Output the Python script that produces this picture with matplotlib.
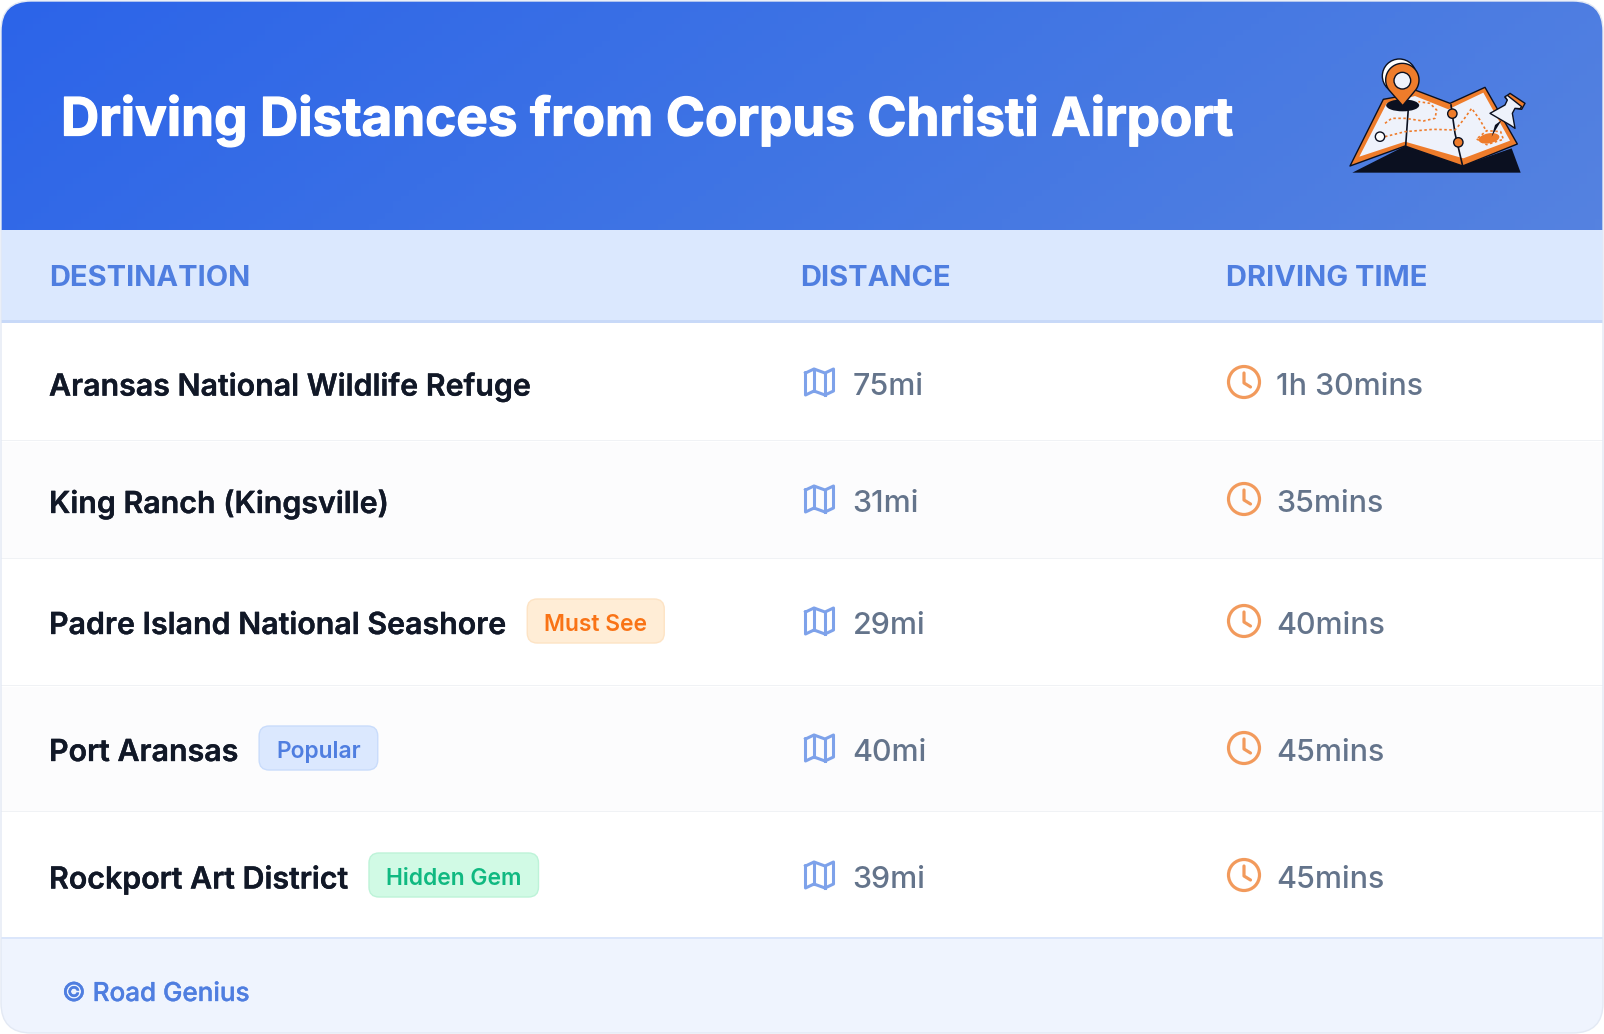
import matplotlib
matplotlib.use('Agg')
import numpy as np
from matplotlib import pyplot as plt, patheffects as pe
from matplotlib.patches import FancyBboxPatch, Rectangle, Circle, Polygon, Ellipse
from matplotlib.colors import LinearSegmentedColormap

title = 'Driving Distances from Corpus Christi Airport'
columns = ['DESTINATION', 'DISTANCE', 'DRIVING TIME']
destinations = ['Aransas National Wildlife Refuge', 'King Ranch (Kingsville)',
                'Padre Island National Seashore', 'Port Aransas', 'Rockport Art District']
distances = ['75mi', '31mi', '29mi', '40mi', '39mi']
times = ['1h 30mins', '35mins', '40mins', '45mins', '45mins']
badges = [None, None, 'Must See', 'Popular', 'Hidden Gem']
footer = '© Road Genius'

W, H = 1604, 1034
plt.rcParams['font.family'] = ['Inter', 'DejaVu Sans']

fig = plt.figure(figsize=(W / 100, H / 100), dpi=100, facecolor='white')
ax = fig.add_axes([0, 0, 1, 1])
ax.set_xlim(0, W)
ax.set_ylim(H, 0)
ax.axis('off')

# px to pt at dpi 100
def px(v):
    return v * 0.72

# thicker glyphs than the font's own bold
def heavy(color, w):
    return [pe.withStroke(linewidth=w, foreground=color)]

# card outline, used to clip everything
card = FancyBboxPatch((1, 1), 1602, 1032, boxstyle='round,pad=0,rounding_size=30',
                      fc='white', ec='none', zorder=0)
ax.add_patch(card)

# header gradient
cmap = LinearSegmentedColormap.from_list('hdr', ['#2c64e9', '#3f74e4', '#5582e0'])
xx, yy = np.meshgrid(np.linspace(0, 1, 200), np.linspace(0, 1, 40))
im = ax.imshow(xx * 0.85 + yy * 0.15, extent=(1, 1603, 230, 1), cmap=cmap, aspect='auto', zorder=1)
im.set_clip_path(card)
ax.set_xlim(0, W)
ax.set_ylim(H, 0)

row_edges = [321, 440, 558, 685, 811, 938]
row_centers = [384, 501, 623, 750, 877]
row_colors = ['#ffffff', '#fcfcfd', '#ffffff', '#fcfcfd', '#ffffff']

def band(y0, y1, color, z=1):
    r = Rectangle((1, y0), 1602, y1 - y0, fc=color, ec='none', zorder=z)
    ax.add_patch(r)
    r.set_clip_path(card)

band(230, 321, '#dbe8fe')
band(320, 323, '#c8d9f8', 2)
for i in range(5):
    band(row_edges[i] + 2, row_edges[i + 1], row_colors[i])
    if i < 4:
        band(row_edges[i + 1], row_edges[i + 1] + 1, '#f0f2f5', 2)
band(938, 1033, '#eff4fe')
band(937, 939, '#dbe6fb', 2)

ax.add_patch(FancyBboxPatch((1, 1), 1602, 1032, boxstyle='round,pad=0,rounding_size=30',
                            fc='none', ec='#e3e9f4', lw=1, zorder=6))

ax.text(61, 121, title, color='white', fontsize=px(52.9), fontweight='bold', va='center', zorder=5,
        path_effects=heavy('white', 0.9))

col_x = [49, 800, 1226]
for x, c in zip(col_x, columns):
    ax.text(x, 279, c, color='#4f7ee0', fontsize=px(29.1), fontweight='bold', va='center', zorder=5)

def map_icon(x, y):
    pts = np.array([[-14, -9], [-5.5, -13], [5.5, -9], [14, -13], [14, 9], [5.5, 13], [-5.5, 9], [-14, 13], [-14, -9]])
    ax.plot(x + pts[:, 0], y + pts[:, 1], color='#7ea2ea', lw=2.2, solid_joinstyle='round', zorder=5)
    ax.plot([x - 5.5, x - 5.5], [y - 13, y + 9], color='#7ea2ea', lw=2.2, zorder=5)
    ax.plot([x + 5.5, x + 5.5], [y - 9, y + 13], color='#7ea2ea', lw=2.2, zorder=5)

def clock_icon(x, y):
    ax.add_patch(Circle((x, y), 15.5, fc='none', ec='#f29a5c', lw=2.3, zorder=5))
    ax.plot([x, x, x + 6.5], [y - 9, y + 1, y + 5], color='#f29a5c', lw=2.3,
            solid_capstyle='round', solid_joinstyle='round', zorder=5)

badge_style = {'Must See': ('#ffedd6', '#fde3c4', '#f97316'),
               'Popular': ('#dbe8fe', '#c9dcfb', '#4f7ee0'),
               'Hidden Gem': ('#d1fae5', '#bdf3d8', '#10b981')}
renderer = fig.canvas.get_renderer()

for i in range(5):
    y = row_centers[i]
    t = ax.text(49, y + 3, destinations[i], color='#111827', fontsize=px(30.35), fontweight='semibold',
                va='center', zorder=5, path_effects=heavy('#111827', 0.25))
    end = t.get_window_extent(renderer).x1
    if badges[i]:
        fc, ec, tc = badge_style[badges[i]]
        bx = end + 21
        bt = ax.text(bx + 17, y + 2, badges[i], color=tc, fontsize=px(22.8), fontweight='semibold',
                     va='center', zorder=6)
        bw = bt.get_window_extent(renderer).width + 34
        ax.add_patch(FancyBboxPatch((bx, y - 24), bw, 44, boxstyle='round,pad=0,rounding_size=10',
                                    fc=fc, ec=ec, lw=1, zorder=5))
    map_icon(819.5, y - 2)
    ax.text(852.5, y + 3, distances[i], color='#64748b', fontsize=px(30.4), fontweight='medium', va='center', zorder=5)
    clock_icon(1244, y - 2)
    ax.text(1276.5, y + 3, times[i], color='#64748b', fontsize=px(30.4), fontweight='medium', va='center', zorder=5)

ax.text(62, 994, footer, color='#4f7ee0', fontsize=px(26), fontweight='medium', va='center', zorder=5,
        path_effects=heavy('#4f7ee0', 0.25))

# map illustration, drawn in crop coordinates of the icon
def ic(pts):
    a = np.array(pts, dtype=float)
    return np.c_[1290 + a[:, 0] / 3, 40 + a[:, 1] / 3]

ORANGE, INK, PAPER = '#ee7c2b', '#0b1020', '#eef2fb'

def poly(pts, fc, ec='none', lw=0, z=7):
    ax.add_patch(Polygon(ic(pts), closed=True, fc=fc, ec=ec, lw=lw, joinstyle='round', zorder=z))

def dash(pts, z=9):
    a = ic(pts)
    ax.plot(a[:, 0], a[:, 1], color=ORANGE, lw=1.2, ls=(0, (1.5, 1.5)), zorder=z)

def dot(x, y, r, fc, ec=INK, z=10, lw=1):
    c = ic([[x, y]])[0]
    ax.add_patch(Circle(c, r / 3, fc=fc, ec=ec, lw=lw, zorder=z))

poly([[187, 398], [345, 318], [518, 376], [665, 325], [692, 398]], INK)
poly([[180, 378], [280, 178], [335, 168], [375, 150], [480, 190], [585, 142], [682, 312],
      [518, 378], [345, 318]], ORANGE, INK, 1, 8)
poly([[208, 350], [290, 190], [375, 168], [475, 208], [580, 158], [660, 302], [520, 355], [345, 305]], PAPER, z=8.5)
for seg in [[[355, 205], [347, 318]], [[483, 195], [495, 280], [518, 378]]]:
    a = ic(seg)
    ax.plot(a[:, 0], a[:, 1], color=INK, lw=1.2, zorder=9)
dash([[285, 290], [345, 275], [430, 268], [495, 270], [520, 240], [545, 205], [570, 240], [590, 275]])
dash([[285, 250], [305, 235], [345, 235], [400, 243], [435, 235], [440, 210], [420, 190], [385, 185]])
ax.add_patch(Ellipse(ic([[338, 196]])[0], 33, 12, fc=INK, ec='none', zorder=10))
ax.add_patch(Ellipse(ic([[597, 295]])[0], 21, 10, angle=-10, fc=ORANGE, ec='none', zorder=10))
dash([[560, 297], [590, 314], [640, 298], [632, 275], [590, 272], [560, 297]])
dot(270, 290, 14, 'white')
dot(487, 221, 14, ORANGE)
dot(505, 307, 14, ORANGE)
# location pin
ax.add_patch(Circle(ic([[328, 108]])[0], 17, fc='white', ec=INK, lw=1, zorder=10))
t = np.linspace(-np.pi * 1.2, np.pi * 0.2, 40)
arc = np.c_[337 + 50 * np.cos(t), 120 + 50 * np.sin(t)]
poly(np.vstack([arc, [[338, 197]]]), ORANGE, INK, 1, 11)
dot(337, 122, 25, PAPER, INK, 12, 1)
# push pin
poly([[645, 172], [660, 160], [705, 190], [695, 208], [675, 205]], ORANGE, INK, 1, 10.5)
poly([[600, 220], [645, 195], [652, 180], [645, 170], [652, 166], [695, 200], [690, 206], [675, 205],
      [667, 220], [675, 265], [660, 255]], PAPER, INK, 1, 11)
poly([[635, 240], [605, 290], [615, 255]], INK, z=11)

fig.savefig('out.png', dpi=100)
